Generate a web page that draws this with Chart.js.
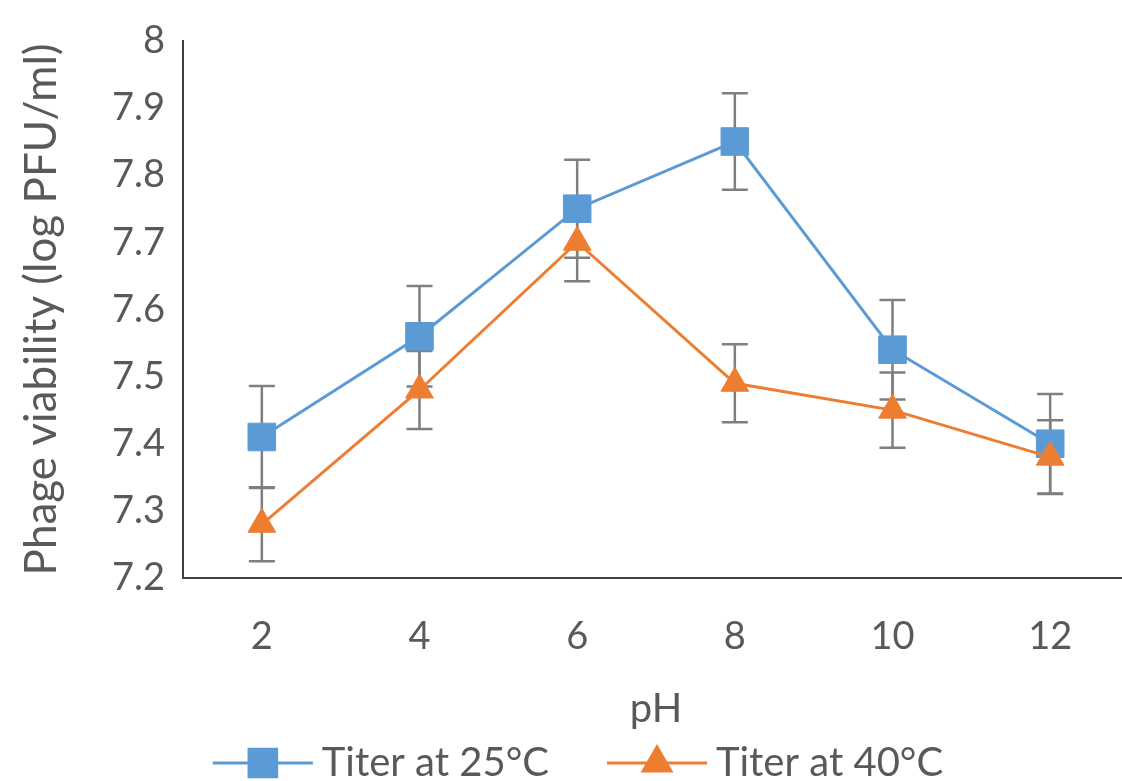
<!DOCTYPE html>
<html>
<head>
<meta charset="utf-8">
<title>Phage viability vs pH</title>
<script src="https://cdn.jsdelivr.net/npm/chart.js@4.4.0/dist/chart.umd.min.js"></script>
<style>
  html, body { margin: 0; padding: 0; overflow: hidden; background: #fff; }
</style>
</head>
<body>
<canvas id="myChart" width="1129" height="781"></canvas>
<script>
// data
var phLabels = ['2', '4', '6', '8', '10', '12'];
var titer25 = [7.41, 7.56, 7.75, 7.85, 7.54, 7.40];
var titer40 = [7.28, 7.48, 7.70, 7.49, 7.45, 7.38];
var err25 = [0.076, 0.075, 0.073, 0.072, 0.074, 0.074];
var err40 = [0.055, 0.058, 0.058, 0.058, 0.056, 0.055];
var yMin = 7.2, yMax = 8, yStep = 0.1;

var blue = '#5B9BD5';
var orange = '#ED7D31';
var textGray = '#595959';
var font = { family: 'Lato', size: 40 };
var tickFont = { family: 'Lato', size: 38 };
var titleFont = { family: 'Lato', size: 44 };

// error bars, drawn under the lines
var errorBars = {
  id: 'errorBars',
  beforeDatasetsDraw: function (chart) {
    var ctx = chart.ctx;
    var y = chart.scales.y;
    ctx.save();
    ctx.strokeStyle = '#7F7F7F';
    ctx.lineWidth = 2.5;
    chart.data.datasets.forEach(function (ds, i) {
      var meta = chart.getDatasetMeta(i);
      meta.data.forEach(function (pt, j) {
        var top = y.getPixelForValue(ds.data[j] + ds.errors[j]);
        var bot = y.getPixelForValue(ds.data[j] - ds.errors[j]);
        ctx.beginPath();
        ctx.moveTo(pt.x, top); ctx.lineTo(pt.x, bot);
        ctx.moveTo(pt.x - 13, top); ctx.lineTo(pt.x + 13, top);
        ctx.moveTo(pt.x - 13, bot); ctx.lineTo(pt.x + 13, bot);
        ctx.stroke();
      });
    });
    ctx.restore();
  }
};

// legend symbol: line with marker, like the office charts
var legendLines = {
  id: 'legendLines',
  afterDraw: function (chart) {
    var legend = chart.legend;
    var ctx = chart.ctx;
    var boxW = legend.options.labels.boxWidth;
    legend.legendItems.forEach(function (item, i) {
      var hb = legend.legendHitBoxes[i];
      var ds = chart.data.datasets[item.datasetIndex];
      var cy = hb.top + hb.height / 2;
      var x0 = hb.left, x1 = hb.left + boxW + 11;
      ctx.save();
      ctx.strokeStyle = ds.borderColor;
      ctx.lineWidth = 3;
      ctx.beginPath();
      ctx.moveTo(x0, cy); ctx.lineTo(x1, cy);
      ctx.stroke();
      ctx.fillStyle = ds.pointBackgroundColor;
      ctx.strokeStyle = ds.pointBorderColor;
      Chart.helpers.drawPoint(ctx, {
        pointStyle: ds.pointStyle,
        radius: ds.pointRadius,
        rotation: 0,
        borderWidth: 1
      }, (x0 + x1) / 2, cy);
      ctx.restore();
    });
  }
};

var ctx = document.getElementById('myChart').getContext('2d');

var myChart = new Chart(ctx, {
  type: 'line',
  data: {
    labels: phLabels,
    datasets: [{
      label: 'Titer at 25°C',
      data: titer25,
      errors: err25,
      borderColor: blue,
      backgroundColor: blue,
      pointBackgroundColor: blue,
      pointBorderColor: blue,
      borderWidth: 3,
      pointStyle: 'rect',
      pointRadius: 19.5,
      pointBorderWidth: 1,
      order: 1
    },
    {
      label: 'Titer at 40°C',
      data: titer40,
      errors: err40,
      borderColor: orange,
      backgroundColor: orange,
      pointBackgroundColor: orange,
      pointBorderColor: orange,
      borderWidth: 3,
      pointStyle: 'triangle',
      pointRadius: 16,
      pointBorderWidth: 1,
      order: 0
    }]
  },
  options: {
    responsive: false,
    animation: false,
    layout: {
      autoPadding: false,
      padding: { top: 30, left: 27, right: 0, bottom: 0 }
    },
    plugins: {
      tooltip: { enabled: false },
      legend: {
        position: 'bottom',
        maxHeight: 96,
        labels: {
          font: font,
          color: textGray,
          boxWidth: 89,
          padding: 58,
          generateLabels: function (chart) {
            return chart.data.datasets.map(function (ds, i) {
              return {
                text: ds.label,
                fillStyle: 'rgba(0,0,0,0)',
                strokeStyle: 'rgba(0,0,0,0)',
                lineWidth: 0,
                fontColor: textGray,
                datasetIndex: i
              };
            });
          }
        }
      }
    },
    scales: {
      x: {
        offset: true,
        grid: { display: true, drawOnChartArea: false, drawTicks: false },
        border: { display: true, color: '#3F3F3F', width: 2 },
        ticks: { font: tickFont, color: textGray, padding: 36 },
        title: {
          display: true,
          text: 'pH',
          font: font,
          color: textGray,
          padding: { top: 0, bottom: -48 }
        },
        afterFit: function (scale) {
          scale.height = 107;
          scale.paddingLeft = 0;
          scale.paddingRight = 0;
        }
      },
      y: {
        min: yMin,
        max: yMax,
        grid: { display: true, drawOnChartArea: false, drawTicks: false },
        border: { display: true, color: '#3F3F3F', width: 2 },
        ticks: {
          stepSize: yStep,
          font: tickFont,
          color: textGray,
          padding: 18,
          callback: function (v) { return String(Math.round(v * 10) / 10); }
        },
        title: {
          display: true,
          text: 'Phage viability (log PFU/ml)',
          font: titleFont,
          color: textGray,
          padding: { top: -12, bottom: 0 }
        },
        afterFit: function (scale) { scale.width = 156; }
      }
    }
  },
  plugins: [errorBars, legendLines]
});
</script>
</body>
</html>
